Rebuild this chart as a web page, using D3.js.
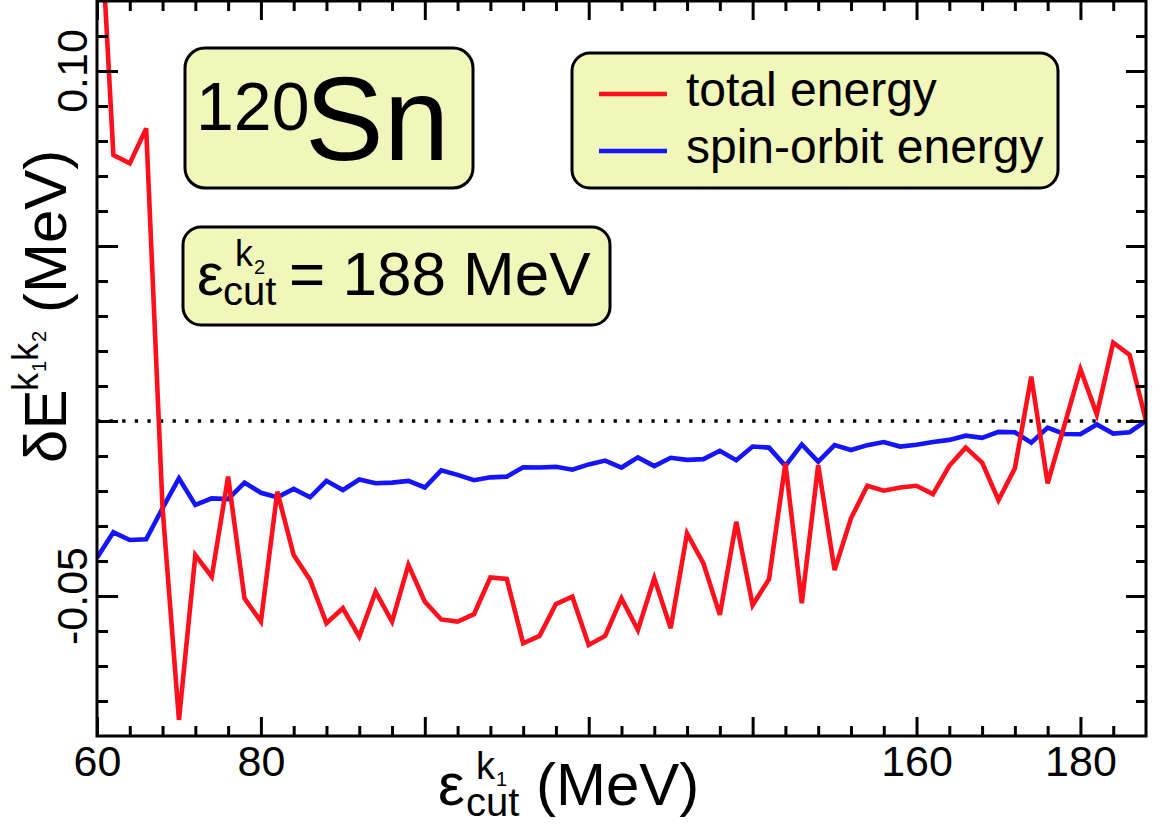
<!DOCTYPE html>
<html>
<head>
<meta charset="utf-8">
<script src="https://cdn.jsdelivr.net/npm/d3@7"></script>
<style>
  body { margin: 0; background: #fff; }
  text { font-family: "Liberation Sans", Arial, sans-serif; fill: #000; }
</style>
</head>
<body>
<div id="chart"></div>
<script>
var width = 1160;
var height = 826;

// data: cut-off energy (MeV) and energy differences (MeV)
var cutEnergy = [60, 62, 64, 66, 68, 70, 72, 74, 76, 78, 80, 82, 84, 86, 88, 90, 92, 94, 96, 98,
    100, 102, 104, 106, 108, 110, 112, 114, 116, 118, 120, 122, 124, 126, 128, 130, 132, 134, 136, 138,
    140, 142, 144, 146, 148, 150, 152, 154, 156, 158, 160, 162, 164, 166, 168, 170, 172, 174, 176, 178,
    180, 182, 184, 186, 188];

var totalEnergy = [0.163, 0.076, 0.0736, 0.0836, -0.0249, -0.0854, -0.0383, -0.0445, -0.0159, -0.0507,
    -0.0573, -0.0202, -0.0383, -0.0454, -0.0578, -0.0535, -0.0616, -0.0488, -0.0573, -0.0411,
    -0.0516, -0.0567, -0.0573, -0.0552, -0.0447, -0.0451, -0.0635, -0.0614, -0.0523, -0.0502,
    -0.064, -0.0614, -0.0507, -0.0597, -0.0449, -0.0592, -0.0321, -0.0407, -0.0554, -0.0288,
    -0.0526, -0.0452, -0.0121, -0.0521, -0.0126, -0.0426, -0.0278, -0.0185, -0.0199, -0.019,
    -0.0185, -0.0209, -0.0128, -0.0076, -0.0119, -0.0226, -0.0135, 0.0127, -0.0178, -0.0016,
    0.0148, 0.0019, 0.0224, 0.0189, 0.0];

var spinOrbitEnergy = [-0.0391, -0.0318, -0.034, -0.0338, -0.0249, -0.0164, -0.024, -0.0221, -0.0223, -0.0176,
    -0.0205, -0.0218, -0.0194, -0.0218, -0.0171, -0.0197, -0.0167, -0.0178, -0.0176, -0.0171,
    -0.019, -0.0141, -0.0154, -0.0169, -0.0161, -0.0159, -0.0132, -0.0133, -0.0131, -0.0139,
    -0.0124, -0.0113, -0.0133, -0.0104, -0.0129, -0.0105, -0.0111, -0.0109, -0.0085, -0.0112,
    -0.0073, -0.0076, -0.0128, -0.0067, -0.0116, -0.0069, -0.0083, -0.0069, -0.006, -0.0073,
    -0.0068, -0.006, -0.0054, -0.0042, -0.0048, -0.0031, -0.0032, -0.0062, -0.0019, -0.0037,
    -0.0038, -0.001, -0.0036, -0.0032, 0.0];

// ticks
var xMajorTicks = [60, 80, 100, 120, 140, 160, 180];
var xMinorTicks = [64, 68, 72, 76, 84, 88, 92, 96, 104, 108, 112, 116, 124, 128, 132, 136,
    144, 148, 152, 156, 164, 168, 172, 176, 184];
var xTickLabels = [60, 80, 160, 180];
var yMajorTicks = [-0.05, 0, 0.05, 0.10];
var yMinorTicks = [-0.08, -0.07, -0.06, -0.04, -0.03, -0.02, -0.01, 0.01, 0.02, 0.03, 0.04,
    0.06, 0.07, 0.08, 0.09, 0.11];
var yTickLabels = [0.10, -0.05];

var seriesNames = ["total energy", "spin-orbit energy"];
var seriesColors = ["#ff101c", "#1414ff"];

var plotLeft = 97, plotRight = 1146, plotTop = 1, plotBottom = 736;

var svg = d3.select("#chart")
    .append("svg")
    .attr("width", width)
    .attr("height", height);

var x = d3.scaleLinear().domain([60, 188]).range([plotLeft, plotRight]);
var y = d3.scaleLinear().domain([-0.09, 0.12]).range([plotBottom, plotTop]);

svg.append("clipPath")
    .attr("id", "plotClip")
    .append("rect")
    .attr("x", plotLeft)
    .attr("y", plotTop)
    .attr("width", plotRight - plotLeft)
    .attr("height", plotBottom - plotTop);

//Zero line
svg.append("line")
    .attr("x1", x(60))
    .attr("x2", x(188))
    .attr("y1", y(0))
    .attr("y2", y(0))
    .attr("stroke", "#000")
    .attr("stroke-width", 3.3)
    .attr("stroke-dasharray", "3.3,9.3");

//Lines
var line = d3.line()
    .x(function (d, i) { return x(cutEnergy[i]); })
    .y(function (d) { return y(d); });

var plotArea = svg.append("g").attr("clip-path", "url(#plotClip)");

plotArea.append("path")
    .datum(spinOrbitEnergy)
    .attr("d", line)
    .attr("fill", "none")
    .attr("stroke", seriesColors[1])
    .attr("stroke-width", 4.6);

plotArea.append("path")
    .datum(totalEnergy)
    .attr("d", line)
    .attr("fill", "none")
    .attr("stroke", seriesColors[0])
    .attr("stroke-width", 4.6);

//Axes (ticks on all four sides, pointing inward)
function styleAxis(g) {
    g.select(".domain").remove();
    g.selectAll(".tick line").attr("stroke", "#000").attr("stroke-width", 3);
}

svg.append("g")
    .attr("transform", "translate(0," + plotBottom + ")")
    .call(d3.axisBottom(x).tickValues(xMinorTicks).tickSize(-10).tickFormat(""))
    .call(styleAxis);
svg.append("g")
    .attr("transform", "translate(0," + plotBottom + ")")
    .call(d3.axisBottom(x).tickValues(xMajorTicks).tickSize(-19).tickPadding(9)
        .tickFormat(function (d) { return xTickLabels.indexOf(d) >= 0 ? d : ""; }))
    .call(styleAxis)
    .selectAll("text")
    .style("font-size", "43px")
    .style("font-family", "'Liberation Sans', Arial, sans-serif")
    .attr("fill", "#000");

svg.append("g")
    .attr("transform", "translate(0," + plotTop + ")")
    .call(d3.axisTop(x).tickValues(xMinorTicks).tickSize(-10).tickFormat(""))
    .call(styleAxis);
svg.append("g")
    .attr("transform", "translate(0," + plotTop + ")")
    .call(d3.axisTop(x).tickValues(xMajorTicks).tickSize(-19).tickFormat(""))
    .call(styleAxis);

svg.append("g")
    .attr("transform", "translate(" + plotLeft + ",0)")
    .call(d3.axisLeft(y).tickValues(yMinorTicks).tickSize(-11).tickFormat(""))
    .call(styleAxis);
svg.append("g")
    .attr("transform", "translate(" + plotLeft + ",0)")
    .call(d3.axisLeft(y).tickValues(yMajorTicks).tickSize(-21).tickFormat(""))
    .call(styleAxis);

svg.append("g")
    .attr("transform", "translate(" + plotRight + ",0)")
    .call(d3.axisRight(y).tickValues(yMinorTicks).tickSize(-10).tickFormat(""))
    .call(styleAxis);
svg.append("g")
    .attr("transform", "translate(" + plotRight + ",0)")
    .call(d3.axisRight(y).tickValues(yMajorTicks).tickSize(-20).tickFormat(""))
    .call(styleAxis);

//Rotated y tick labels
svg.selectAll(".ylabel")
    .data(yTickLabels)
    .enter()
    .append("text")
    .attr("class", "ylabel")
    .attr("transform", function (d) { return "translate(87," + y(d) + ") rotate(-90)"; })
    .attr("text-anchor", "middle")
    .style("font-size", "43px")
    .text(function (d) { return d.toFixed(2); });

//Frame
svg.append("rect")
    .attr("x", plotLeft)
    .attr("y", plotTop)
    .attr("width", plotRight - plotLeft)
    .attr("height", plotBottom - plotTop)
    .attr("fill", "none")
    .attr("stroke", "#000")
    .attr("stroke-width", 3);

// helper: one text element, pieces placed as tspans
function addPieces(g, pieces) {
    var t = g.append("text");
    pieces.forEach(function (p) {
        t.append("tspan")
            .attr("x", p[0])
            .attr("y", p[1])
            .style("font-size", p[2] + "px")
            .text(p[3]);
    });
    return t;
}

//X axis title
var xt = svg.append("g").attr("transform", "translate(438,805)");
addPieces(xt, [
    [0, 0, 60, "ε"],
    [28, 11, 40, "cut"],
    [38, -26, 38, "k"],
    [58, -19, 20, "1"],
    [98, 0, 60, "(MeV)"]
]);

//Y axis title
var yt = svg.append("g").attr("transform", "translate(66,463) rotate(-90)");
addPieces(yt, [
    [0, 0, 60, "δE"],
    [72, -28, 36, "k"],
    [91, -20, 20, "1"],
    [102, -28, 36, "k"],
    [121, -20, 20, "2"],
    [150, 0, 60, "(MeV)"]
]);

//Nucleus box
var boxFill = "#f1f6ba";
svg.append("rect")
    .attr("x", 185).attr("y", 48).attr("width", 288).attr("height", 140)
    .attr("rx", 20).attr("fill", boxFill).attr("stroke", "#000").attr("stroke-width", 3);
addPieces(svg, [
    [196, 130, 68, "120"],
    [305, 160, 118, "Sn"]
]);

//Cut-off box
svg.append("rect")
    .attr("x", 183).attr("y", 227).attr("width", 427).attr("height", 98)
    .attr("rx", 18).attr("fill", boxFill).attr("stroke", "#000").attr("stroke-width", 3);
var ct = svg.append("g").attr("transform", "translate(197,295)");
addPieces(ct, [
    [0, 0, 60, "ε"],
    [26, 10, 40, "cut"],
    [38, -29, 36, "k"],
    [57, -21, 20, "2"],
    [92, 0, 62, "= 188 MeV"]
]);

//Legend
svg.append("rect")
    .attr("x", 572).attr("y", 53).attr("width", 486).attr("height", 135)
    .attr("rx", 18).attr("fill", boxFill).attr("stroke", "#000").attr("stroke-width", 3);

var legendY = [94, 151];
for (var i = 0; i < seriesNames.length; i++) {
    svg.append("line")
        .attr("x1", 599).attr("x2", 667)
        .attr("y1", legendY[i]).attr("y2", legendY[i])
        .attr("stroke", seriesColors[i])
        .attr("stroke-width", 4.5);
    svg.append("text")
        .attr("x", 686)
        .attr("y", legendY[i] + 12)
        .style("font-size", "48px")
        .text(seriesNames[i]);
}
</script>
</body>
</html>
